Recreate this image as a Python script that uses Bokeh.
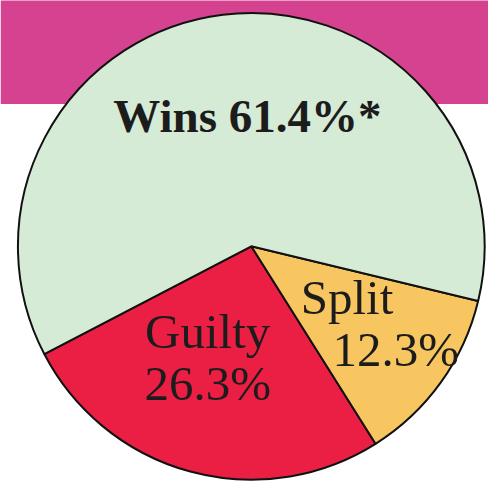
import math
from bokeh.plotting import figure
from bokeh.models import Range1d, ColumnDataSource
from bokeh.core.properties import value
from bokeh.embed import file_html
from bokeh.resources import INLINE

# ---- data ----
categories = ["Guilty", "Split", "Wins"]
shares = [26.3, 12.3, 61.4]
colors = ["#ea1f43", "#f8c660", "#d5ebd6"]
start_deg = 207.5  # where the Guilty slice begins (anticlockwise order)

# ---- derived wedge angles ----
starts, ends = [], []
acc = start_deg
for s in shares:
    starts.append(math.radians(acc))
    acc += s * 3.6
    ends.append(math.radians(acc))

src = ColumnDataSource(dict(cat=categories, share=shares, color=colors,
                            start=starts, end=ends))

W, H = 488, 481
p = figure(width=W, height=H, output_backend="svg", toolbar_location=None,
           x_range=Range1d(0, 504), y_range=Range1d(0, 497),
           min_border=0, background_fill_color="white")
p.axis.visible = False
p.grid.visible = False
p.outline_line_color = None

# magenta band at top
p.quad(left=[0], right=[510], bottom=[390], top=[510],
       fill_color="#d5428f", line_color=None)

cx, cy, r = 259, 243, 241
p.wedge(x=cx, y=cy, radius=r, start_angle="start", end_angle="end",
        fill_color="color", line_color="#111111", line_width=2, source=src)

font = value("Liberation Serif")
tc = "#1c1c1c"
lab = {c: f"{v}%" for c, v in zip(categories, shares)}

# Wins label (bold, single line)
p.text(x=[255], y=[378], text=[f"Wins {lab['Wins']}*"], text_font=font,
       text_font_size="47px", text_font_style="bold", text_align="center",
       text_baseline="alphabetic", text_color=tc)
# Guilty label
p.text(x=[214, 214], y=[155, 101], text=["Guilty", lab["Guilty"]],
       text_font=font, text_font_size="49px", text_align="center",
       text_baseline="alphabetic", text_color=tc)
# Split label
p.text(x=[310, 343], y=[190, 136], text=["Split", lab["Split"]],
       text_font=font, text_font_size="49px", text_align="left",
       text_baseline="alphabetic", text_color=tc)

open("out.html", "w").write(file_html(p, INLINE))
